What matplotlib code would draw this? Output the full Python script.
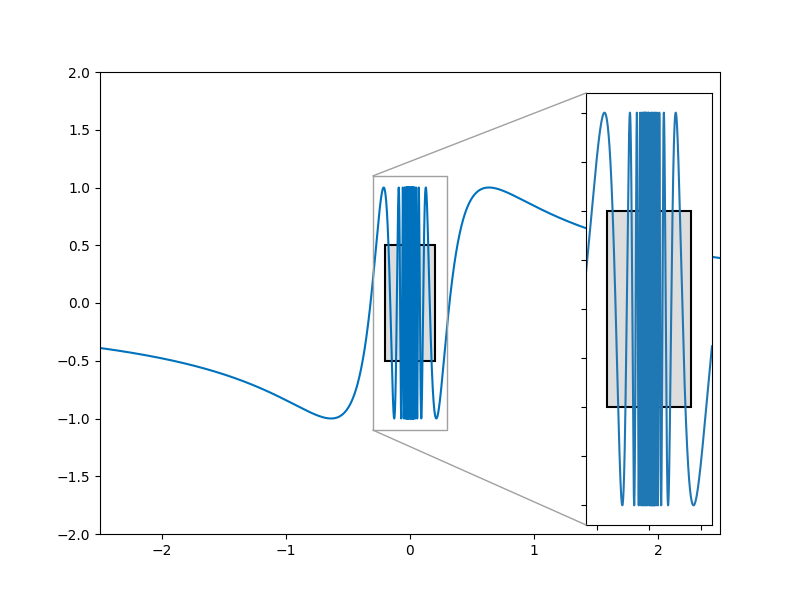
import numpy as np
import matplotlib
matplotlib.use("Agg")
import matplotlib.pyplot as plt
from matplotlib.patches import Rectangle, ConnectionPatch

x_range = (-2.5, 2.5)
n_points = 100000
y_lim = (-2, 2)
zoom_x = (-0.3, 0.3)
zoom_y = (-1.1, 1.1)
rect_xy = (-0.2, -0.5)
rect_w = 0.4
rect_h = 1.0

x = np.linspace(x_range[0], x_range[1], n_points)
y = np.sin(1.0 / x)

fig, ax = plt.subplots(figsize=(8, 6), dpi=100)
ax.add_patch(Rectangle(rect_xy, rect_w, rect_h, facecolor="#dddddd",
                       edgecolor="black", linewidth=1.5, zorder=1))
ax.plot(x, y, color="#0072bd", linewidth=1.5, zorder=2)
ax.set_xlim(*x_range)
ax.set_ylim(*y_lim)

axins = ax.inset_axes([0.784, 0.0195, 0.203, 0.935])
axins.add_patch(Rectangle(rect_xy, rect_w, rect_h, facecolor="#dddddd",
                          edgecolor="black", linewidth=1.5, zorder=1))
axins.plot(x, y, color="#1f77b4", linewidth=1.5, zorder=2)
axins.set_xlim(*zoom_x)
axins.set_ylim(*zoom_y)
axins.set_xticks([-0.25, 0, 0.25])
axins.set_yticks(np.arange(-1.0, 1.01, 0.25))
axins.set_xticklabels([])
axins.set_yticklabels([])

gray = "#a0a0a0"
ax.add_patch(Rectangle((zoom_x[0], zoom_y[0]), zoom_x[1] - zoom_x[0],
                       zoom_y[1] - zoom_y[0], fill=False, edgecolor=gray,
                       linewidth=1.0, zorder=4))
for yy, ay in [(zoom_y[1], 1.0), (zoom_y[0], 0.0)]:
    con = ConnectionPatch(xyA=(zoom_x[0], yy), coordsA=ax.transData,
                          xyB=(0.0, ay), coordsB=axins.transAxes,
                          color=gray, linewidth=1.0)
    fig.add_artist(con)

fig.savefig("out.png", dpi=100)
